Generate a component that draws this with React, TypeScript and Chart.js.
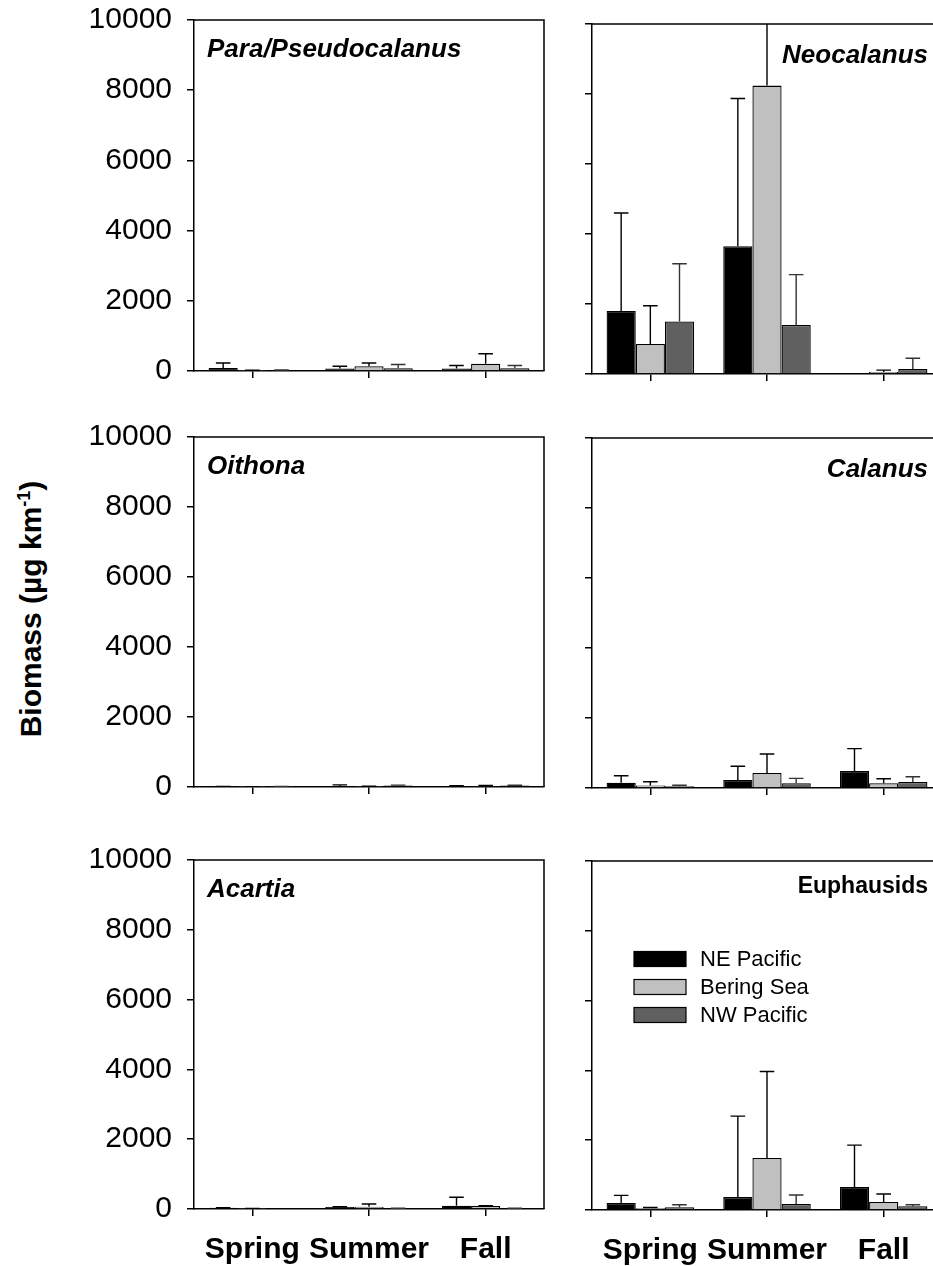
import React, { useEffect, useRef } from 'react';
import { Chart, registerables } from 'chart.js';

Chart.register(...registerables);
Chart.defaults.font.family = "'Liberation Sans', Arial, sans-serif";
Chart.defaults.color = '#000';

// ---------- data ----------
const seasons = ['Spring', 'Summer', 'Fall'];
const regions = ['NE Pacific', 'Bering Sea', 'NW Pacific'];
const regionColors = ['#000000', '#c0c0c0', '#606060'];
const errorColors = ['#000000', '#000000', '#333333'];
const yMin = 0;
const yMax = 10000;
const yStep = 2000;
const yTitle = 'Biomass (µg km';
const yTitleSup = '-1';
const yTitleEnd = ')';

// Para/Pseudocalanus
const paraNE = [85, 70, 70];
const paraNESd = [145, 65, 85];
const paraBS = [10, 135, 210];
const paraBSSd = [10, 95, 280];
const paraNW = [15, 80, 75];
const paraNWSd = [15, 105, 80];

// Neocalanus
const neoNE = [1800, 3650, 30];
const neoNESd = [2800, 4220, 0];
const neoBS = [860, 8240, 60];
const neoBSSd = [1090, 4500, 50];
const neoNW = [1500, 1400, 140];
const neoNWSd = [1650, 1440, 310];

// Oithona
const oitNE = [10, 30, 20];
const oitNESd = [5, 30, 15];
const oitBS = [5, 10, 30];
const oitBSSd = [5, 10, 15];
const oitNW = [10, 40, 40];
const oitNWSd = [5, 15, 10];

// Calanus
const calNE = [150, 230, 485];
const calNESd = [200, 390, 640];
const calBS = [75, 430, 135];
const calBSSd = [105, 540, 130];
const calNW = [50, 135, 170];
const calNWSd = [30, 140, 150];

// Acartia
const acaNE = [35, 55, 95];
const acaNESd = [5, 10, 240];
const acaBS = [10, 65, 85];
const acaBSSd = [5, 80, 10];
const acaNW = [0, 15, 15];
const acaNWSd = [0, 5, 5];

// Euphausids
const eupNE = [200, 370, 660];
const eupNESd = [220, 2320, 1200];
const eupBS = [50, 1490, 230];
const eupBSSd = [20, 2480, 230];
const eupNW = [80, 170, 110];
const eupNWSd = [70, 260, 40];

type PanelDef = {
  title: string;
  italic: boolean;
  col: number;
  row: number;
  values: number[][];
  sds: number[][];
  legend?: boolean;
};

const panels: PanelDef[] = [
  { title: 'Para/Pseudocalanus', italic: true, col: 0, row: 0, values: [paraNE, paraBS, paraNW], sds: [paraNESd, paraBSSd, paraNWSd] },
  { title: 'Neocalanus', italic: true, col: 1, row: 0, values: [neoNE, neoBS, neoNW], sds: [neoNESd, neoBSSd, neoNWSd] },
  { title: 'Oithona', italic: true, col: 0, row: 1, values: [oitNE, oitBS, oitNW], sds: [oitNESd, oitBSSd, oitNWSd] },
  { title: 'Calanus', italic: true, col: 1, row: 1, values: [calNE, calBS, calNW], sds: [calNESd, calBSSd, calNWSd] },
  { title: 'Acartia', italic: true, col: 0, row: 2, values: [acaNE, acaBS, acaNW], sds: [acaNESd, acaBSSd, acaNWSd] },
  { title: 'Euphausids', italic: false, col: 1, row: 2, values: [eupNE, eupBS, eupNW], sds: [eupNESd, eupBSSd, eupNWSd], legend: true },
];

// ---------- layout (pixels) ----------
const COLS = [
  { canvasLeft: 60, canvasWidth: 500, yAxisW: 134, padRight: 16, showYLabels: true },
  { canvasLeft: 530, canvasWidth: 440, yAxisW: 62, padRight: 28, showYLabels: false },
];
const ROWS = [
  [ [20, 371], [437, 787], [860, 1209] ],
  [ [24, 374], [438, 788], [861, 1210] ],
];
const PAD_TOP = 20;

// ---------- plugins ----------
const errorBarPlugin = {
  id: 'errorBars',
  afterDatasetsDraw(chart: any) {
    const { ctx, chartArea, scales } = chart;
    const ys = scales.y;
    ctx.save();
    ctx.beginPath();
    ctx.rect(chartArea.left, chartArea.top, chartArea.right - chartArea.left, chartArea.bottom - chartArea.top);
    ctx.clip();
    chart.data.datasets.forEach((ds: any, i: number) => {
      const meta = chart.getDatasetMeta(i);
      meta.data.forEach((bar: any, j: number) => {
        const v = ds.data[j];
        const e = ds.errors[j];
        if (!e) return;
        const x = bar.x;
        const y0 = ys.getPixelForValue(v);
        const y1 = ys.getPixelForValue(v + e);
        const half = bar.width / 4;
        ctx.strokeStyle = ds.errorColor;
        ctx.lineWidth = 1.4;
        ctx.beginPath();
        ctx.moveTo(x, y0);
        ctx.lineTo(x, y1);
        ctx.moveTo(x - half, y1);
        ctx.lineTo(x + half, y1);
        ctx.stroke();
      });
    });
    ctx.restore();
  },
};

const boxPlugin = {
  id: 'frameBox',
  afterDraw(chart: any) {
    const { ctx, chartArea } = chart;
    ctx.save();
    ctx.strokeStyle = '#000';
    ctx.lineWidth = 1.5;
    ctx.beginPath();
    ctx.moveTo(chartArea.left, chartArea.top);
    ctx.lineTo(chartArea.right, chartArea.top);
    ctx.lineTo(chartArea.right, chartArea.bottom);
    ctx.stroke();
    ctx.restore();
  },
};

function makeTitlePlugin(p: PanelDef) {
  return {
    id: 'panelTitle',
    afterDraw(chart: any) {
      const { ctx, chartArea } = chart;
      ctx.save();
      ctx.fillStyle = '#000';
      ctx.textBaseline = 'alphabetic';
      if (p.italic) {
        ctx.font = "italic bold 26px 'Liberation Sans', Arial, sans-serif";
      } else {
        ctx.font = "bold 23px 'Liberation Sans', Arial, sans-serif";
      }
      if (p.col === 0) {
        ctx.textAlign = 'left';
        ctx.fillText(p.title, chartArea.left + 13, chartArea.top + 37);
      } else {
        ctx.textAlign = 'right';
        ctx.fillText(p.title, 928 - COLS[1].canvasLeft, chartArea.top + (p.italic ? 39 : 32));
      }
      ctx.restore();
    },
  };
}

const legendPlugin = {
  id: 'boxLegend',
  afterDraw(chart: any) {
    const { ctx, chartArea } = chart;
    ctx.save();
    ctx.font = "22px 'Liberation Sans', Arial, sans-serif";
    ctx.textBaseline = 'middle';
    ctx.textAlign = 'left';
    chart.data.datasets.forEach((ds: any, i: number) => {
      const cy = chartArea.top + 98 + i * 28;
      const bx = chartArea.left + 42;
      ctx.fillStyle = ds.backgroundColor;
      ctx.fillRect(bx, cy - 7.5, 52, 15);
      ctx.strokeStyle = '#000';
      ctx.lineWidth = 1.2;
      ctx.strokeRect(bx, cy - 7.5, 52, 15);
      ctx.fillStyle = '#000';
      ctx.fillText(ds.label, chartArea.left + 108, cy + 1);
    });
    ctx.restore();
  },
};

// ---------- panel component ----------
function PanelChart({ p }: { p: PanelDef }) {
  const ref = useRef<HTMLCanvasElement | null>(null);
  const col = COLS[p.col];
  const [top, bottom] = ROWS[p.col][p.row];
  const isBottom = p.row === 2;
  const xAxisH = isBottom ? 57 : 16;
  const canvasTop = top - PAD_TOP;
  const canvasHeight = PAD_TOP + (bottom - top) + xAxisH;

  useEffect(() => {
    if (!ref.current) return;
    const plugins: any[] = [errorBarPlugin, boxPlugin, makeTitlePlugin(p)];
    if (p.legend) plugins.push(legendPlugin);
    const chart = new Chart(ref.current, {
      type: 'bar',
      data: {
        labels: seasons,
        datasets: regions.map((r, i) => ({
          label: r,
          data: p.values[i],
          errors: p.sds[i],
          errorColor: errorColors[i],
          backgroundColor: regionColors[i],
          borderColor: '#000',
          borderWidth: 1.3,
          categoryPercentage: 0.75,
          barPercentage: 1.0,
        })) as any,
      },
      options: {
        responsive: false,
        animation: false,
        devicePixelRatio: 1,
        layout: { padding: { top: PAD_TOP, right: col.padRight, left: 0, bottom: 0 } },
        plugins: {
          legend: { display: false },
          tooltip: { enabled: false },
          title: { display: false },
        },
        scales: {
          x: {
            type: 'category',
            offset: true,
            grid: {
              offset: false,
              drawOnChartArea: false,
              drawTicks: true,
              tickLength: 7,
              color: '#000',
              lineWidth: 1.5,
            },
            border: { display: true, color: '#000', width: 1.5 },
            ticks: {
              display: isBottom,
              autoSkip: false,
              maxRotation: 0,
              minRotation: 0,
              padding: 16,
              color: '#000',
              font: { size: 30, weight: 'bold' },
            },
            afterFit: (s: any) => {
              s.height = xAxisH;
              s.paddingLeft = 0;
              s.paddingRight = 0;
              s.paddingTop = 0;
              s.paddingBottom = 0;
            },
          },
          y: {
            min: yMin,
            max: yMax,
            grid: {
              drawOnChartArea: false,
              drawTicks: true,
              tickLength: 7,
              color: '#000',
              lineWidth: 1.5,
            },
            border: { display: true, color: '#000', width: 1.5 },
            ticks: {
              display: col.showYLabels,
              stepSize: yStep,
              padding: 15,
              color: '#000',
              font: { size: 30 },
              callback: (v: any) => String(v),
            },
            afterFit: (s: any) => {
              s.width = col.yAxisW;
              s.paddingLeft = 0;
              s.paddingRight = 0;
              s.paddingTop = 0;
              s.paddingBottom = 0;
            },
          },
        },
      } as any,
      plugins,
    });
    return () => chart.destroy();
  }, []);

  return (
    <canvas
      ref={ref}
      width={col.canvasWidth}
      height={canvasHeight}
      style={{
        position: 'absolute',
        left: col.canvasLeft,
        top: canvasTop,
        width: col.canvasWidth,
        height: canvasHeight,
      }}
    />
  );
}

export default function App() {
  return (
    <div
      style={{
        position: 'fixed',
        left: 0,
        top: 0,
        width: 933,
        height: 1266,
        overflow: 'hidden',
        background: '#fff',
      }}
    >
      {panels.map((p) => (
        <PanelChart key={p.title} p={p} />
      ))}
      <div
        style={{
          position: 'absolute',
          left: 30.5 - 250,
          top: 609 - 20,
          width: 500,
          height: 40,
          lineHeight: '40px',
          textAlign: 'center',
          transform: 'rotate(-90deg)',
          fontFamily: "'Liberation Sans', Arial, sans-serif",
          fontWeight: 'bold',
          fontSize: 30,
          color: '#000',
          whiteSpace: 'nowrap',
        }}
      >
        {yTitle}
        <sup style={{ fontSize: 18, lineHeight: 0 }}>{yTitleSup}</sup>
        {yTitleEnd}
      </div>
    </div>
  );
}
